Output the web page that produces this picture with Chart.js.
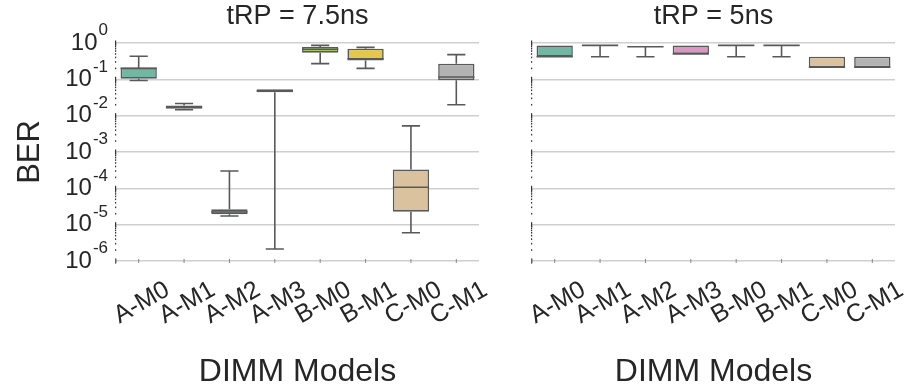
<!DOCTYPE html>
<html><head><meta charset="utf-8">
<script src="https://cdn.jsdelivr.net/npm/chart.js@4/dist/chart.umd.min.js"></script>
<style>
html,body{margin:0;padding:0;background:#fff;}
#wrap{position:relative;width:907px;height:391px;overflow:hidden;}
#cA{position:absolute;left:0;top:0;}
#cB{position:absolute;left:490px;top:0;}
</style></head>
<body><div id="wrap"><canvas id="cA" width="490" height="391"></canvas><canvas id="cB" width="417" height="391"></canvas></div>
<script>
const categories = ['A-M0','A-M1','A-M2','A-M3','B-M0','B-M1','C-M0','C-M1'];
const boxColors = ['#71b7a1','#e99575','#95a3c3','#dc96c1','#a2c764','#e5c849','#dbc29e','#b3b3b3'];
const yTickExponents = [0,-1,-2,-3,-4,-5,-6];

// tRP = 7.5ns
const lowA    = [0.093, 0.0145, 1.74e-5, 2.14e-6, 0.27, 0.20, 6.0e-6, 0.020];
const q1A     = [0.104, 0.0155, 1.94e-5, 0.044,   0.54, 0.33, 2.28e-5, 0.095];
const medA    = [0.20,  0.0172, 2.24e-5, 0.048,   0.67, 0.37, 1.07e-4, 0.116];
const q3A     = [0.213, 0.019,  2.65e-5, 0.053,   0.776,0.70, 3.3e-4, 0.27];
const highA   = [0.43,  0.0217, 3.0e-4,  0.053,   0.86, 0.76, 5.25e-3, 0.48];

// tRP = 5ns
const lowB    = [0.42, 0.42, 0.42, 0.50, 0.42, 0.42, 0.213, 0.213];
const q1B     = [0.42, 0.86, 0.79, 0.50, 0.86, 0.86, 0.213, 0.213];
const medB    = [0.42, 0.86, 0.79, 0.50, 0.86, 0.86, 0.215, 0.215];
const q3B     = [0.86, 0.86, 0.79, 0.86, 0.86, 0.86, 0.42, 0.42];
const highB   = [0.86, 0.86, 0.79, 0.86, 0.86, 0.86, 0.42, 0.42];

const EDGE = '#595959';
const TEXT = '#262626';
const FONT = "'Liberation Sans', Arial, sans-serif";

function boxPlugin(low, med, high, showYLabels) {
  return {
    id: 'boxExtras',
    beforeDatasetsDraw(chart) {
      const ctx = chart.ctx, y = chart.scales.y, x = chart.scales.x, ca = chart.chartArea;
      ctx.save();
      ctx.fillStyle = '#333';
      for (let e = -6; e <= 0; e++) {
        const py = y.getPixelForValue(Math.pow(10, e));
        ctx.fillRect(ca.left - 1, py - 2.5, 1.2, 5);
        if (e < 0) {
          for (let k = 2; k <= 9; k++) {
            const v = k * Math.pow(10, e);
            const my = y.getPixelForValue(v);
            ctx.fillRect(ca.left - 1, my - 0.8, 1.2, 1.6);
          }
        }
      }
      ctx.fillStyle = '#888';
      ctx.fillRect(ca.left - 0.5, ca.bottom - 2, 1, 4);
      for (let i = 0; i < categories.length; i++) {
        const px = x.getPixelForValue(i);
        ctx.fillRect(px - 0.5, ca.bottom - 2, 1, 4);
      }
      ctx.restore();
    },
    afterDatasetsDraw(chart) {
      const ctx = chart.ctx, y = chart.scales.y;
      const meta = chart.getDatasetMeta(0);
      ctx.save();
      ctx.strokeStyle = EDGE;
      ctx.lineWidth = 1.6;
      meta.data.forEach((bar, i) => {
        const {x: cx, width} = bar.getProps(['x','width'], true);
        const hw = width / 2, cw = width / 4;
        const raw = chart.data.datasets[0].data[i];
        const pq1 = y.getPixelForValue(raw[0]);
        const pq3 = y.getPixelForValue(raw[1]);
        const pLo = y.getPixelForValue(low[i]);
        const pHi = y.getPixelForValue(high[i]);
        const pMed = y.getPixelForValue(med[i]);
        ctx.beginPath();
        if (Math.abs(pHi - pq3) > 0.5) {
          ctx.moveTo(cx, pq3); ctx.lineTo(cx, pHi);
          ctx.moveTo(cx - cw, pHi); ctx.lineTo(cx + cw, pHi);
        }
        if (Math.abs(pLo - pq1) > 0.5) {
          ctx.moveTo(cx, pq1); ctx.lineTo(cx, pLo);
          ctx.moveTo(cx - cw, pLo); ctx.lineTo(cx + cw, pLo);
        }
        ctx.moveTo(cx - hw, pMed); ctx.lineTo(cx + hw, pMed);
        ctx.stroke();
      });
      ctx.restore();
    },
    afterDraw(chart) {
      if (!showYLabels) return;
      const ctx = chart.ctx, y = chart.scales.y;
      ctx.save();
      ctx.fillStyle = TEXT;
      ctx.textBaseline = 'middle';
      ctx.textAlign = 'left';
      yTickExponents.forEach(e => {
        const py = y.getPixelForValue(Math.pow(10, e));
        ctx.font = '24px ' + FONT;
        const w10 = ctx.measureText('10').width;
        ctx.font = '17px ' + FONT;
        const es = String(e);
        const we = ctx.measureText(es).width;
        const right = 108;
        const start = right - (w10 + 1 + we);
        ctx.font = '24px ' + FONT;
        ctx.fillText('10', start, py);
        ctx.font = '17px ' + FONT;
        ctx.fillText(es, start + w10 + 1, py - 12.5);
      });
      ctx.restore();
    }
  };
}

function makeChart(canvasId, titleText, q1, q3, low, med, high, yWidth, padRight, showYLabels) {
  const data = q1.map((v, i) => [v, q3[i]]);
  return new Chart(document.getElementById(canvasId), {
    type: 'bar',
    data: {
      labels: categories,
      datasets: [{
        data: data,
        backgroundColor: boxColors,
        borderColor: EDGE,
        borderWidth: 1.6,
        borderSkipped: false,
        barPercentage: 0.8,
        categoryPercentage: 1.0
      }]
    },
    options: {
      responsive: false,
      animation: false,
      devicePixelRatio: 1,
      layout: { padding: { left: 0, right: padRight, top: 0, bottom: 0 } },
      plugins: {
        legend: { display: false },
        tooltip: { enabled: false },
        title: {
          display: true, text: titleText, color: TEXT, fullSize: false,
          font: { family: FONT, size: 27, weight: 'normal', lineHeight: 1.2 },
          padding: { top: 0, bottom: 10.6 }
        }
      },
      scales: {
        x: {
          type: 'category',
          grid: { display: false },
          border: { display: false },
          ticks: {
            autoSkip: false, maxRotation: 30, minRotation: 30,
            color: TEXT, font: { family: FONT, size: 25 },
            padding: 6, labelOffset: 29
          },
          title: {
            display: true, text: 'DIMM Models', color: TEXT,
            font: { family: FONT, size: 32, lineHeight: 1.2 },
            padding: { top: 9, bottom: 0 }
          },
          afterFit(s) { s.height = 130; s.paddingLeft = 0; s.paddingRight = 0; }
        },
        y: {
          type: 'logarithmic',
          min: 1e-6, max: 1,
          afterBuildTicks(s) { s.ticks = yTickExponents.map(e => ({ value: Math.pow(10, e) })); },
          grid: { color: '#cfcfcf', lineWidth: 1.6, drawTicks: false },
          border: { display: false },
          ticks: { display: false },
          title: {
            display: showYLabels, text: 'BER', color: TEXT,
            font: { family: FONT, size: 31, lineHeight: 1.2 },
            padding: { top: 11.4, bottom: 0 }
          },
          afterFit(s) { s.width = yWidth; s.paddingTop = 0; s.paddingBottom = 0; }
        }
      }
    },
    plugins: [boxPlugin(low, med, high, showYLabels)]
  });
}

makeChart('cA', 'tRP = 7.5ns', q1A, q3A, lowA, medA, highA, 116, 11, true);
makeChart('cB', 'tRP = 5ns', q1B, q3B, lowB, medB, highB, 42, 12, false);
</script>
</body></html>
